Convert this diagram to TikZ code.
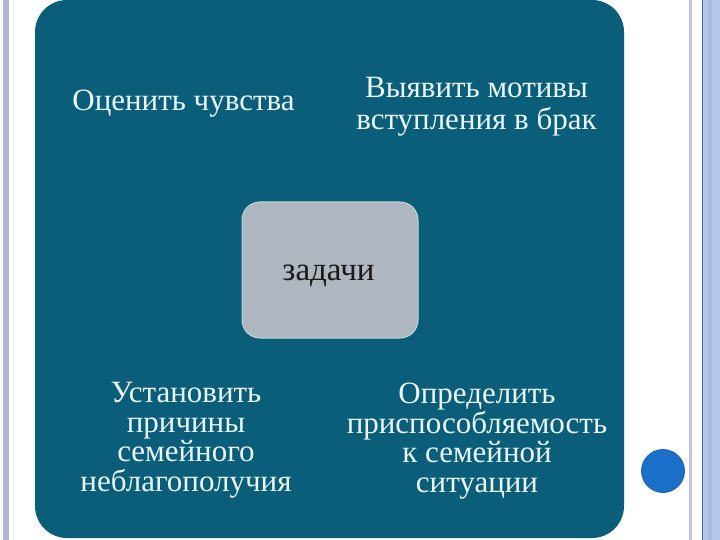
\documentclass[tikz,border=0pt]{standalone}
\usepackage{fontspec}
\setmainfont{Liberation Serif}
\definecolor{teal1}{HTML}{0B5E79}
\definecolor{greybox}{HTML}{AEB6BF}
\definecolor{greyedge}{HTML}{C3D6DE}
\definecolor{txtlight}{HTML}{EAF6F8}
\definecolor{lav}{HTML}{AEB4DA}
\definecolor{pinkline}{HTML}{F3E6F0}
\definecolor{rline}{HTML}{BFC6D6}
\definecolor{rblue}{HTML}{3C6FBF}
\definecolor{rfill}{HTML}{B5C8E8}
\definecolor{rstripe}{HTML}{A9BDE2}
\definecolor{dotblue}{HTML}{1A6FC9}
\definecolor{dotedge}{HTML}{1B5FAA}
\tikzset{
  quadtext/.style={text=txtlight, align=center, font=\fontsize{31}{29.5}\selectfont, inner sep=0pt},
  quadtop/.style={text=txtlight, align=center, font=\fontsize{31}{32}\selectfont, inner sep=0pt},
  centertext/.style={text=black!90, font=\fontsize{33}{33}\selectfont, inner sep=0pt}
}
\begin{document}
\begin{tikzpicture}[x=1pt,y=-1pt]
\useasboundingbox (0,0) rectangle (720,540);
\fill[white] (0,0) rectangle (720,540);
% left border
\fill[lav] (3,0) rectangle (9,540);
\fill[pinkline] (12.5,0) rectangle (14,540);
% right border
\fill[rline] (689,0) rectangle (692,540);
\fill[rfill] (703,0) rectangle (720,540);
\fill[rstripe] (708,0) rectangle (712,540);
\fill[rblue] (701.5,0) rectangle (703,540);
% main panel
\fill[teal1, rounded corners=32pt] (35,0) rectangle (624,538);
% centre box
\node[draw=greyedge, line width=1pt, fill=greybox, rounded corners=18pt,
      minimum width=176pt, minimum height=136pt, inner sep=0pt] (c) at (330,270) {};
\node[centertext, anchor=base] (ct) at (328.5,280) {задачи};
% quadrant texts (base anchor = last line's baseline)
\node[quadtop, anchor=base] (tl) at (183.5,111) {Оценить чувства};
\node[quadtop, anchor=base] (tr) at (476.5,130) {Выявить мотивы\\вступления в брак};
\node[quadtext, anchor=base] (bl) at (186,491) {Установить\\причины\\семейного\\неблагополучия};
\node[quadtext, anchor=base] (br) at (477,492) {Определить\\приспособляемость\\к семейной\\ситуации};
% blue dot
\node[circle, fill=dotblue, draw=dotedge, line width=0.8pt, minimum size=43pt, inner sep=0pt] (dot) at (663,471) {};
\end{tikzpicture}
\end{document}
